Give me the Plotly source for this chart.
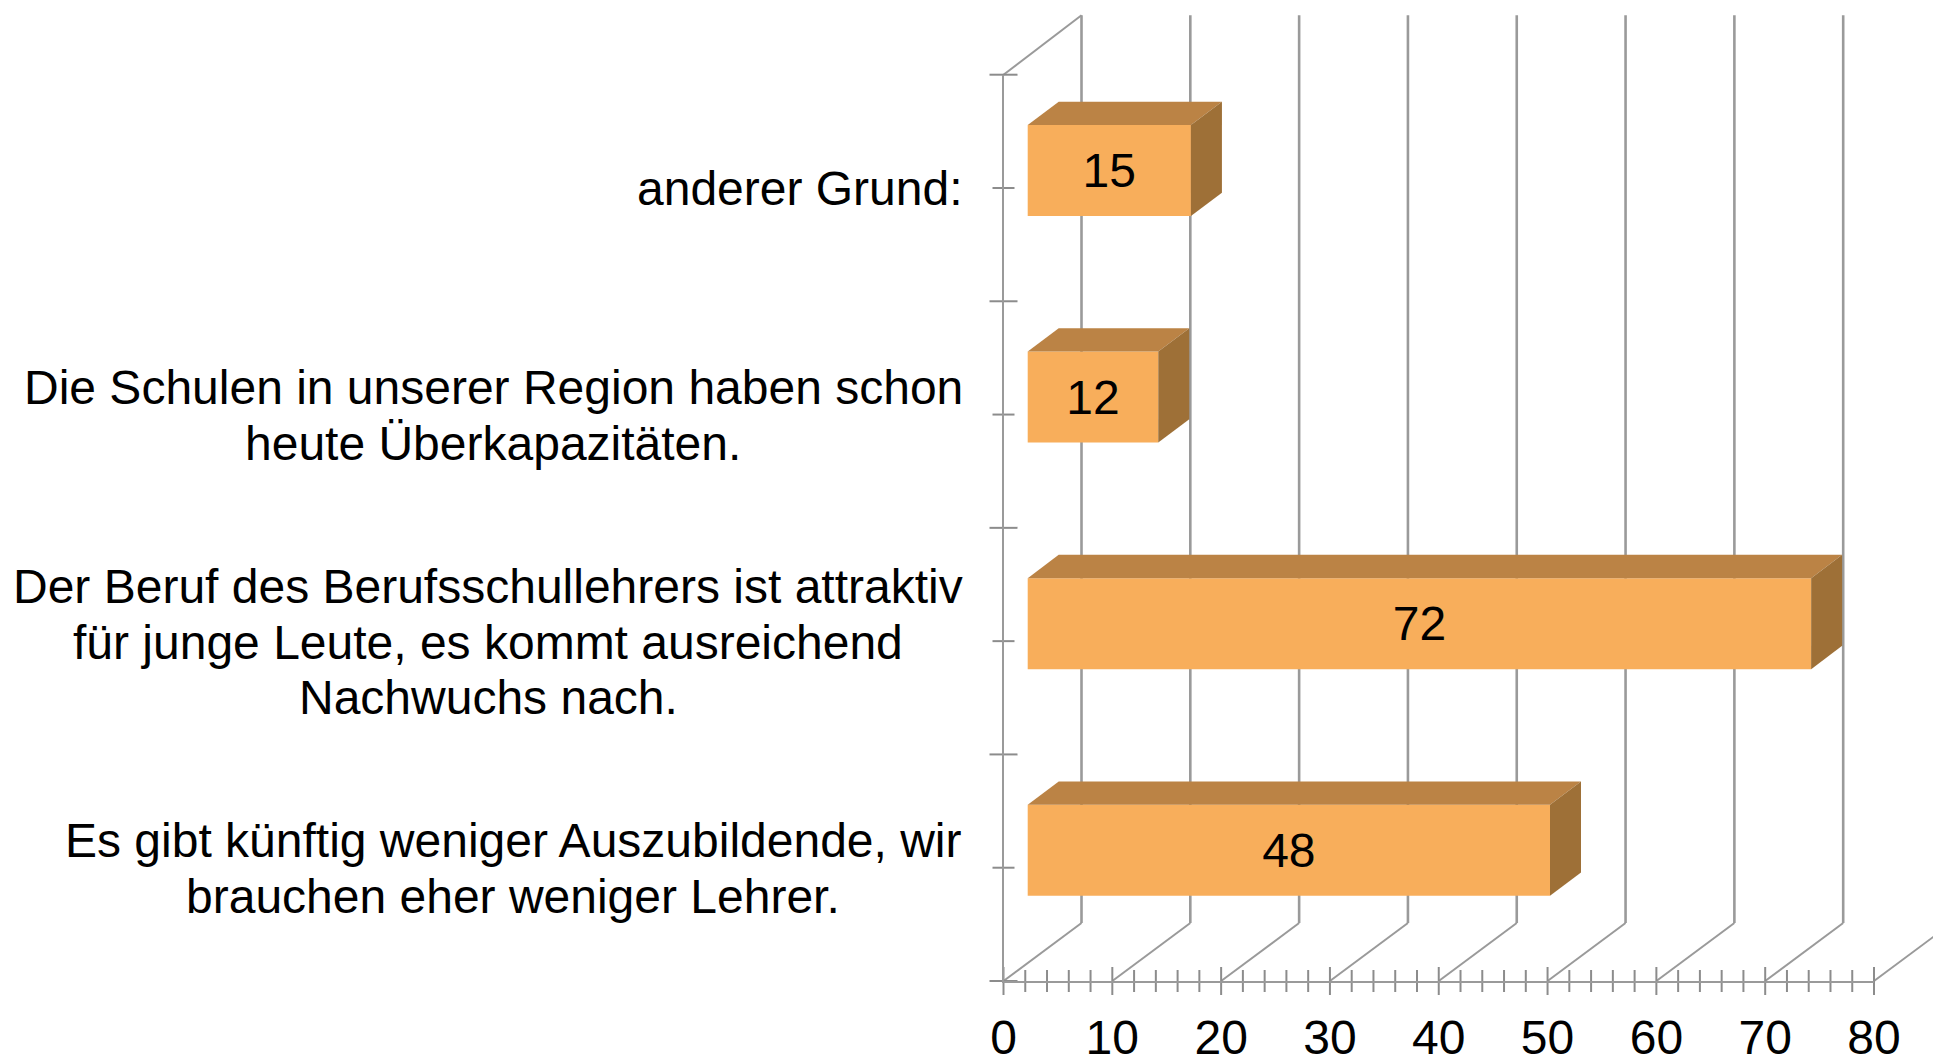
import plotly.graph_objects as go

# ---- data ----
categories = [
    ["Es gibt künftig weniger Auszubildende, wir", "brauchen eher weniger Lehrer."],
    ["Der Beruf des Berufsschullehrers ist attraktiv", "für junge Leute, es kommt ausreichend", "Nachwuchs nach."],
    ["Die Schulen in unserer Region haben schon", "heute Überkapazitäten."],
    ["anderer Grund:"],
]
values = [48, 72, 12, 15]
x_ticks = [0, 10, 20, 30, 40, 50, 60, 70, 80]
x_minor_ticks = [v for v in range(0, 81, 2) if v % 10]

# ---- layout constants (pixels on the 1933x1056 page) ----
W, H = 1933, 1056
L, R, T, B = 1003.5, 1874.0, 74.7, 981.0
PX_X = (R - L) / 80
PX_Y = (B - T) / 4
ux = lambda px: px / PX_X
uy = lambda px: px / PX_Y
Y0, Y1 = -0.5, 3.5
# the drawing axes span the whole page, so 3-D parts outside the box are not clipped
PAGE_X = [-L / PX_X, (W - L) / PX_X]
PAGE_Y = [Y0 - (H - B) / PX_Y, Y1 + T / PX_Y]

WALL_DX, WALL_DY = ux(78), uy(58)
WALL_TOP = Y1 + uy(59.5)
BAR_X0 = ux(24.2)
BAR_SHIFT = uy(17.5)
BAR_H = uy(91)
BAR_DX, BAR_DY = ux(31), uy(23.3)
LABEL_CENTRES = [513, 488, 493, 800]
LINE_STEP = uy(55.5)
FONT = "Liberation Sans, Arial, Helvetica, sans-serif"
FS = 48
GRID = "#9a9a9a"
TICK = "#8c8c8c"
FRONT, TOP, SIDE = "#F8AE5B", "#BB8345", "#9E7037"

fig = go.Figure()


def segs(pairs):
    xs, ys = [], []
    for (a, b), (c, d) in pairs:
        xs += [a, c, None]
        ys += [b, d, None]
    return xs, ys


def line(pairs, color, width):
    xs, ys = segs(pairs)
    fig.add_trace(go.Scatter(x=xs, y=ys, mode="lines", hoverinfo="skip",
                             line=dict(color=color, width=width), showlegend=False))


# back wall: vertical gridlines and floor slants
line([((v + WALL_DX, Y0 + WALL_DY), (v + WALL_DX, WALL_TOP)) for v in x_ticks[:-1]], GRID, 2.6)
line([((v, Y0), (v + WALL_DX, Y0 + WALL_DY)) for v in x_ticks] + [((0, Y1), (WALL_DX, WALL_TOP))], GRID, 2)

# crossing tick marks
line([((v, Y0 - uy(14)), (v, Y0 + uy(14))) for v in x_ticks], TICK, 2)
line([((v, Y0 - uy(11)), (v, Y0 + uy(11))) for v in x_minor_ticks], TICK, 2)
line([((-ux(14), i + Y0), (ux(14), i + Y0)) for i in range(5)], TICK, 2)
line([((-ux(11), i), (ux(11), i)) for i in range(4)], TICK, 2)

# bars on overlay axes, so that they sit above the gridlines
ys = [i + BAR_SHIFT for i in range(len(values))]
fig.add_trace(go.Bar(
    x=values, y=ys, base=BAR_X0, width=BAR_H, orientation="h", xaxis="x2", yaxis="y2",
    marker=dict(color=FRONT, line=dict(width=0)),
    text=[str(v) for v in values], textposition="inside", insidetextanchor="middle",
    textangle=0, insidetextfont=dict(family=FONT, size=FS, color="black"),
    constraintext="none", hoverinfo="skip", showlegend=False,
))
for v, y in zip(values, ys):
    x0, x1 = BAR_X0, BAR_X0 + v
    lo, hi = y - BAR_H / 2, y + BAR_H / 2
    fig.add_trace(go.Scatter(
        x=[x0, x1, x1 + BAR_DX, x0 + BAR_DX, x0], y=[hi, hi, hi + BAR_DY, hi + BAR_DY, hi],
        mode="lines", fill="toself", fillcolor=TOP, line=dict(width=0), xaxis="x2", yaxis="y2",
        hoverinfo="skip", showlegend=False))
    fig.add_trace(go.Scatter(
        x=[x1, x1 + BAR_DX, x1 + BAR_DX, x1, x1], y=[lo, lo + BAR_DY, hi + BAR_DY, hi, lo],
        mode="lines", fill="toself", fillcolor=SIDE, line=dict(width=0), xaxis="x2", yaxis="y2",
        hoverinfo="skip", showlegend=False))

# invisible trace that makes the labelled axes render
fig.add_trace(go.Scatter(x=[0, 80], y=[Y0, Y1], mode="lines", line=dict(width=0, color="rgba(0,0,0,0)"),
                         xaxis="x3", yaxis="y3", hoverinfo="skip", showlegend=False))

# category labels, one annotation per line for the tight line spacing
annotations = []
for i, lines in enumerate(categories):
    n = len(lines)
    for j, text in enumerate(lines):
        annotations.append(dict(
            text=text, xref="x", yref="y", x=(LABEL_CENTRES[i] - L) / PX_X,
            y=i + uy(-1) - (j - (n - 1) / 2) * LINE_STEP,
            xanchor="center", yanchor="middle", showarrow=False,
            font=dict(family=FONT, size=FS, color="black")))

hidden = dict(visible=False, showgrid=False, zeroline=False, automargin=False)
fig.update_layout(
    template=None,
    width=W, height=H, autosize=False,
    margin=dict(l=0, r=0, t=0, b=0, pad=0),
    paper_bgcolor="white", plot_bgcolor="rgba(0,0,0,0)",
    showlegend=False, barmode="overlay", annotations=annotations,
    font=dict(family=FONT, color="black"),
    xaxis=dict(range=PAGE_X, domain=[0, 1], **hidden),
    yaxis=dict(range=PAGE_Y, domain=[0, 1], **hidden),
    xaxis2=dict(range=PAGE_X, overlaying="x", domain=[0, 1], **hidden),
    yaxis2=dict(range=PAGE_Y, overlaying="y", domain=[0, 1], **hidden),
    # the visible axes: scale 0-80 and the four category bands
    xaxis3=dict(range=[0, 80], domain=[L / W, R / W], anchor="y3",
                tickvals=x_ticks, ticktext=[str(v) for v in x_ticks], ticks="",
                showline=True, linecolor=GRID, linewidth=2, ticklabelstandoff=13,
                showgrid=False, zeroline=False, automargin=False,
                tickfont=dict(family=FONT, size=FS, color="black")),
    yaxis3=dict(range=[Y0, Y1], domain=[(H - B) / H, (H - T) / H], anchor="x3",
                showticklabels=False, ticks="", showline=True, linecolor=GRID, linewidth=2,
                showgrid=False, zeroline=False, automargin=False),
)

fig.write_html("out.html", config={"displayModeBar": False},
               post_script="document.body.style.margin='0';document.body.style.overflow='hidden';")
